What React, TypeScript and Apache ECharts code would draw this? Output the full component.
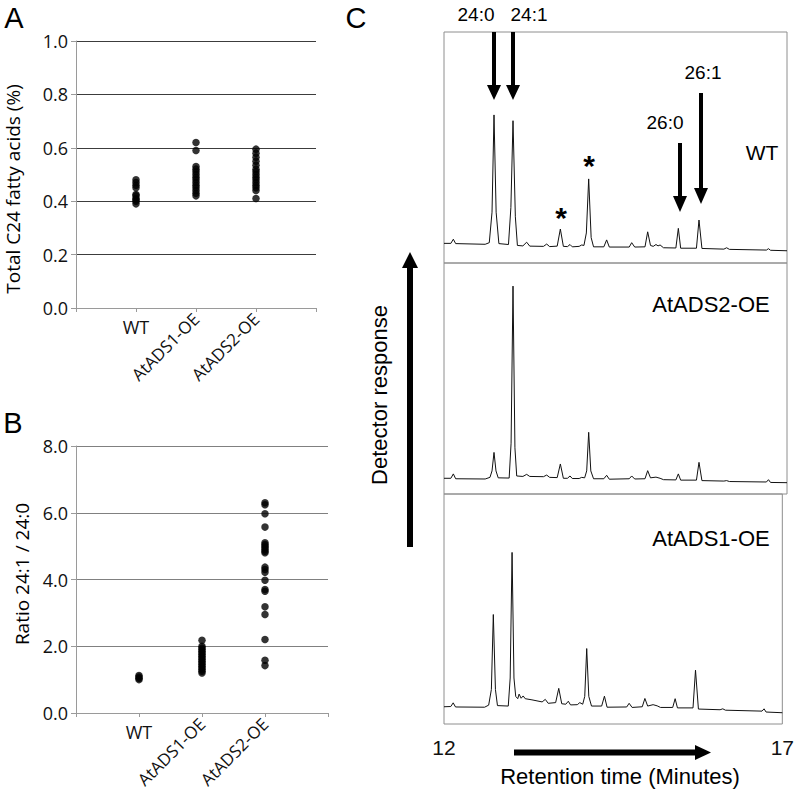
import React, { useEffect, useRef } from "react";
import * as echarts from "echarts";

// ---------- Data ----------
const groupLabels = ["WT", "AtADS1-OE", "AtADS2-OE"];

// Panel A: total C24 fatty acids (%)
const c24WT = [0.39, 0.4, 0.405, 0.41, 0.42, 0.425, 0.45, 0.46, 0.47, 0.48];
const c24ADS1 = [0.62, 0.59, 0.53, 0.52, 0.51, 0.5, 0.49, 0.48, 0.47, 0.46, 0.45, 0.44, 0.43, 0.42];
const c24ADS2 = [0.595, 0.58, 0.565, 0.55, 0.535, 0.52, 0.51, 0.5, 0.49, 0.48, 0.47, 0.46, 0.45, 0.44, 0.41];

// Panel B: ratio 24:1 / 24:0
const ratioWT = [1.0, 1.04, 1.08, 1.12];
const ratioADS1 = [2.18, 2.0, 1.95, 1.9, 1.85, 1.8, 1.75, 1.7, 1.65, 1.6, 1.55, 1.5, 1.45, 1.4, 1.35, 1.3, 1.25, 1.2];
const ratioADS2 = [6.3, 6.24, 5.97, 5.57, 5.1, 5.05, 5.0, 4.95, 4.9, 4.85, 4.8, 4.37, 4.3, 4.22, 3.98, 3.7, 3.65, 3.18, 2.95, 2.2, 1.58, 1.42];

// Panel C: chromatograms [time (min), detector response (relative)]
const traceWT = [
  [12.0, 8.5], [12.1, 8.5], [12.136, 10.3], [12.17, 8.4], [12.6, 8.1], [12.66, 8.8], [12.7, 22], [12.729, 64.1], [12.76, 22], [12.8, 8.4],
  [12.94, 8.0], [12.975, 24], [13.006, 61.6], [13.04, 20], [13.07, 7.6], [13.15, 7.4], [13.205, 9.0], [13.25, 7.3], [13.45, 7.2],
  [13.497, 8.2], [13.54, 7.1], [13.65, 7.3], [13.696, 14.7], [13.74, 7.2], [13.8, 7.1], [13.837, 8.0], [13.87, 7.0], [13.97, 7.2],
  [14.007, 7.8], [14.04, 7.6], [14.075, 13], [14.109, 36.4], [14.145, 11], [14.18, 7.0], [14.33, 7.0], [14.371, 10.0], [14.41, 6.9],
  [14.7, 6.9], [14.736, 8.8], [14.78, 6.9], [14.93, 7.0], [14.969, 13.5], [15.01, 7.6], [15.05, 7.2], [15.09, 8.0], [15.12, 7.4],
  [15.15, 7.8], [15.2, 6.6], [15.38, 6.5], [15.416, 15.0], [15.45, 6.4], [15.68, 6.4], [15.717, 18.6], [15.76, 6.3], [16.08, 6.0],
  [16.12, 6.6], [16.16, 5.9], [16.7, 5.6], [16.73, 6.2], [16.76, 5.5], [17.0, 5.3],
];
const traceADS2 = [
  [12.0, 6.8], [12.1, 6.8], [12.136, 8.7], [12.17, 6.6], [12.6, 6.5], [12.67, 7.2], [12.7, 10], [12.729, 18.0], [12.758, 10], [12.79, 7.0],
  [12.95, 6.9], [12.978, 22], [13.006, 90.0], [13.034, 20], [13.06, 7.8], [13.15, 7.6], [13.205, 8.5], [13.25, 7.6], [13.45, 7.5],
  [13.497, 8.2], [13.54, 7.2], [13.65, 7.1], [13.696, 13.0], [13.74, 6.8], [13.8, 6.8], [13.837, 7.8], [13.87, 6.7], [13.97, 6.7],
  [14.007, 7.2], [14.05, 7.0], [14.08, 10], [14.109, 26.7], [14.14, 10], [14.18, 6.6], [14.33, 6.6], [14.371, 8.1], [14.41, 6.4],
  [14.7, 6.6], [14.736, 7.8], [14.78, 6.5], [14.93, 6.6], [14.969, 10.1], [15.01, 7.0], [15.09, 7.3], [15.15, 6.8], [15.2, 6.2],
  [15.38, 6.1], [15.416, 8.7], [15.45, 6.0], [15.68, 6.0], [15.717, 13.7], [15.76, 5.8], [16.08, 5.6], [16.12, 5.8], [16.16, 5.4],
  [16.7, 5.2], [16.73, 6.2], [16.76, 5.0], [17.0, 4.9],
];
const traceADS1 = [
  [12.0, 7.5], [12.1, 7.6], [12.136, 9.2], [12.17, 7.4], [12.6, 7.3], [12.66, 8.2], [12.7, 15], [12.729, 47.6], [12.76, 15], [12.79, 8.0],
  [12.95, 7.8], [12.978, 20], [13.006, 74.6], [13.034, 20], [13.06, 12.0], [13.09, 11.0], [13.11, 13.0], [13.14, 11.2], [13.17, 12.2],
  [13.2, 11.0], [13.3, 10.5], [13.45, 9.6], [13.497, 10.7], [13.54, 9.0], [13.65, 9.3], [13.696, 15.5], [13.74, 8.8], [13.8, 8.6],
  [13.837, 9.9], [13.87, 8.3], [13.97, 8.4], [14.007, 9.3], [14.05, 8.6], [14.08, 12], [14.109, 32.8], [14.14, 12], [14.18, 7.8],
  [14.33, 7.8], [14.371, 12.1], [14.41, 7.3], [14.7, 7.4], [14.736, 9.0], [14.78, 7.2], [14.93, 7.5], [14.969, 11.1], [15.01, 7.8],
  [15.09, 8.4], [15.15, 7.9], [15.2, 7.2], [15.38, 7.2], [15.416, 11.0], [15.45, 7.0], [15.68, 7.0], [15.717, 23.4], [15.76, 6.5],
  [16.08, 6.2], [16.12, 6.6], [16.16, 6.0], [16.7, 5.6], [16.73, 6.6], [16.76, 5.2], [17.0, 4.9],
];

const timeMin = 12;
const timeMax = 17;

// ---------- Chart ----------
const SANS = "Open Sans";
const ARIAL = "Liberation Sans";

function scatterData(groups: number[][]) {
  const out: number[][] = [];
  groups.forEach((vals, gi) => vals.forEach((v) => out.push([gi + 1, v])));
  return out;
}

function catXAxes(gridIndex: number) {
  const common = {
    gridIndex,
    type: "value",
    min: 0,
    max: 4,
    interval: 1,
    position: "bottom",
    splitLine: { show: false },
  };
  return [
    {
      ...common,
      axisLine: { show: true, lineStyle: { color: "#9a9a9a", width: 1 } },
      axisTick: { show: true, length: 4, lineStyle: { color: "#9a9a9a" } },
      axisLabel: {
        rotate: 45,
        margin: 8,
        fontFamily: SANS,
        fontSize: 17,
        color: "#111",
        formatter: (v: number) => (v === 2 || v === 3 ? groupLabels[v - 1] : ""),
      },
    },
    {
      ...common,
      axisLine: { show: false },
      axisTick: { show: false },
      axisLabel: {
        margin: 10,
        fontFamily: SANS,
        fontSize: 18,
        color: "#111",
        formatter: (v: number) => (v === 1 ? groupLabels[0] : ""),
      },
    },
  ];
}

function valueYAxis(gridIndex: number, max: number, interval: number, gridColor: string) {
  const n = Math.round(max / interval) + 1;
  const colors = ["rgba(0,0,0,0)"];
  for (let i = 1; i < n; i++) colors.push(gridColor);
  return {
    gridIndex,
    type: "value",
    min: 0,
    max,
    interval,
    axisLine: { show: true, lineStyle: { color: "#9a9a9a", width: 1 } },
    axisTick: { show: true, length: 5, lineStyle: { color: "#9a9a9a" } },
    axisLabel: {
      margin: 8,
      fontFamily: SANS,
      fontSize: 18,
      color: "#111",
      formatter: (v: number) => v.toFixed(1),
    },
    splitLine: { show: true, lineStyle: { color: colors, width: 1 } },
  };
}

function chromXAxis(gridIndex: number, showLabels: boolean) {
  return {
    gridIndex,
    type: "value",
    min: timeMin,
    max: timeMax,
    interval: 1,
    axisLine: { show: false },
    axisTick: { show: false },
    splitLine: { show: false },
    axisLabel: {
      show: showLabels,
      margin: 13,
      fontFamily: ARIAL,
      fontSize: 21,
      color: "#111",
      showMinLabel: true,
      showMaxLabel: true,
      formatter: (v: number) => (v === timeMin || v === timeMax ? String(v) : ""),
    },
  };
}

function chromYAxis(gridIndex: number) {
  return {
    gridIndex,
    type: "value",
    min: 0,
    max: 100,
    show: false,
    splitLine: { show: false },
  };
}

function arrowDown(x: number, y1: number, tip: number, w: number, half: number, headLen: number) {
  return [
    { type: "line", shape: { x1: x, y1, x2: x, y2: tip - headLen + 2 }, style: { stroke: "#000", lineWidth: w } },
    { type: "polygon", shape: { points: [[x - half, tip - headLen], [x + half, tip - headLen], [x, tip]] }, style: { fill: "#000" } },
  ];
}

function txt(text: string, x: number, y: number, fontSize: number, font: string, extra: any = {}) {
  return {
    type: "text",
    x,
    y,
    style: { text, fontSize, fontFamily: font, fill: "#000", align: "center", verticalAlign: "middle", ...(extra.style || {}) },
    rotation: extra.rotation || 0,
  };
}

export default function App() {
  const ref = useRef<HTMLDivElement>(null);
  useEffect(() => {
    if (!ref.current) return;
    const chart = echarts.init(ref.current, undefined, { renderer: "svg" });
    const chromGridStyle = { show: true, borderColor: "#8e8e8e", borderWidth: 1, backgroundColor: "transparent" };
    const option: any = {
      animation: false,
      backgroundColor: "#fff",
      grid: [
        { left: 76, top: 41, width: 240, height: 267 },
        { left: 76, top: 446, width: 252, height: 267 },
        { left: 444, top: 32, width: 343, height: 231, ...chromGridStyle },
        { left: 444, top: 263, width: 343, height: 231, ...chromGridStyle },
        { left: 444, top: 494, width: 343, height: 230, ...chromGridStyle },
      ],
      xAxis: [
        ...catXAxes(0),
        ...catXAxes(1),
        chromXAxis(2, false),
        chromXAxis(3, false),
        chromXAxis(4, true),
      ],
      yAxis: [
        valueYAxis(0, 1.0, 0.2, "#3c3c3c"),
        valueYAxis(1, 8.0, 2.0, "#808080"),
        chromYAxis(2),
        chromYAxis(3),
        chromYAxis(4),
      ],
      series: [
        {
          type: "scatter",
          xAxisIndex: 0,
          yAxisIndex: 0,
          symbolSize: 7.5,
          itemStyle: { color: "#000" },
          data: scatterData([c24WT, c24ADS1, c24ADS2]),
        },
        {
          type: "scatter",
          xAxisIndex: 2,
          yAxisIndex: 1,
          symbolSize: 7.5,
          itemStyle: { color: "#000" },
          data: scatterData([ratioWT, ratioADS1, ratioADS2]),
        },
        ...[traceWT, traceADS2, traceADS1].map((d, i) => ({
          type: "line",
          xAxisIndex: 4 + i,
          yAxisIndex: 2 + i,
          showSymbol: false,
          symbol: "none",
          lineStyle: { color: "#111", width: 1 },
          data: d,
        })),
      ],
      graphic: [
        txt("A", 14, 18, 29, ARIAL),
        txt("B", 13, 423, 29, ARIAL),
        txt("C", 356, 18, 29, ARIAL),
        txt("Total C24 fatty acids (%)", 13, 189, 19, SANS, { rotation: Math.PI / 2 }),
        txt("Ratio 24:1 / 24:0", 22, 574, 19, SANS, { rotation: Math.PI / 2 }),
        txt("24:0", 476, 14, 19, ARIAL),
        txt("24:1", 529, 14, 19, ARIAL),
        txt("26:1", 703, 72, 19, ARIAL),
        txt("26:0", 665, 122, 19, ARIAL),
        txt("WT", 762, 152, 21, ARIAL),
        txt("AtADS2-OE", 711, 304, 22, ARIAL),
        txt("AtADS1-OE", 711, 538, 22, ARIAL),
        txt("*", 561, 217, 30, ARIAL, { style: { fontWeight: "bold" } }),
        txt("*", 589, 165, 30, ARIAL, { style: { fontWeight: "bold" } }),
        txt("Detector response", 379, 395, 22, ARIAL, { rotation: Math.PI / 2 }),
        txt("Retention time (Minutes)", 620, 776, 22, ARIAL),
        ...arrowDown(494, 32, 100, 4, 7, 15),
        ...arrowDown(513, 32, 100, 4, 7, 15),
        ...arrowDown(701, 93, 204, 4, 7, 16),
        ...arrowDown(680, 143, 212, 4, 7, 16),
        { type: "line", shape: { x1: 410, y1: 547, x2: 410, y2: 268 }, style: { stroke: "#000", lineWidth: 6 } },
        { type: "polygon", shape: { points: [[402, 268], [418, 268], [410, 252]] }, style: { fill: "#000" } },
        { type: "line", shape: { x1: 514, y1: 752.5, x2: 697, y2: 752.5 }, style: { stroke: "#000", lineWidth: 6 } },
        { type: "polygon", shape: { points: [[695, 745], [695, 760], [711, 752.5]] }, style: { fill: "#000" } },
      ],
    };
    chart.setOption(option);
    return () => chart.dispose();
  }, []);
  return (
    <div
      ref={ref}
      style={{ position: "fixed", left: 0, top: 0, width: 797, height: 797, background: "#fff" }}
    />
  );
}
